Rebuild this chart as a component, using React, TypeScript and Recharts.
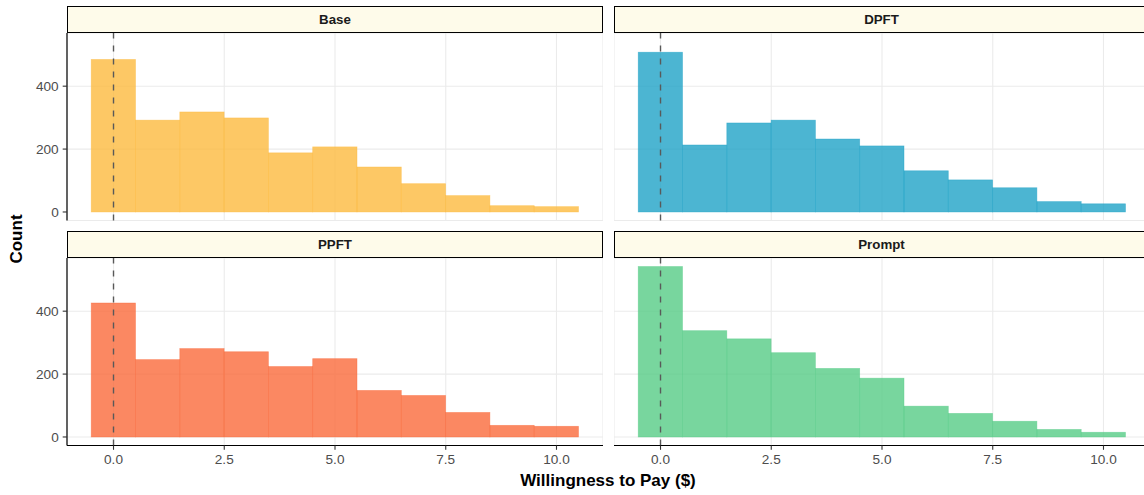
import React from "react"
import { BarChart, Bar, XAxis, YAxis, CartesianGrid, ReferenceLine } from "recharts"

// bin centres (width 1) and counts per condition
const bins = [0, 1, 2, 3, 4, 5, 6, 7, 8, 9, 10]
const baseCounts = [485, 292, 318, 299, 188, 207, 143, 90, 52, 20, 17]
const dpftCounts = [508, 213, 283, 292, 232, 210, 131, 102, 77, 33, 26]
const ppftCounts = [426, 246, 281, 271, 224, 249, 148, 132, 78, 37, 34]
const promptCounts = [542, 338, 312, 268, 218, 187, 98, 75, 50, 24, 15]

const xTicks = [0, 2.5, 5, 7.5, 10]
const yTicks = [0, 200, 400]

const FONT = "'Liberation Sans', Arial, Helvetica, sans-serif"
const PANEL_W = 536
const PANEL_H = 187.5
const X_DOMAIN: [number, number] = [-1.05, 11.05]
const Y_DOMAIN: [number, number] = [-27.1, 569.1]
const Y_AXIS_W = 67
const X_AXIS_H = 32
const BAR_W = PANEL_W / (X_DOMAIN[1] - X_DOMAIN[0])

const toRows = (counts: number[]) => bins.map((b, i) => ({ bin: b, count: counts[i] }))

const tickStyle = { fill: "#4d4d4d", fontSize: 13.6, fontFamily: FONT }

// histogram bars: full bin width, centred on the bar's x position
const HistRect = (props: any) => {
  const { x, y, width, height, fill } = props
  if (height == null || height <= 0) return null
  const cx = x + width / 2
  return (
    <rect
      x={cx - BAR_W / 2}
      y={y}
      width={BAR_W}
      height={height}
      fill={fill}
      fillOpacity={0.8}
      stroke={fill}
      strokeOpacity={0.55}
      strokeWidth={0.7}
    />
  )
}

interface PanelProps {
  title: string
  counts: number[]
  color: string
  left: number
  top: number
  showX: boolean
  showY: boolean
}

function Strip({ title, left, top }: { title: string; left: number; top: number }) {
  return (
    <div
      style={{
        position: "absolute",
        left,
        top,
        width: PANEL_W,
        height: 27,
        boxSizing: "border-box",
        border: "1.4px solid #000",
        background: "#fefbea",
        fontFamily: FONT,
        fontWeight: "bold",
        fontSize: 13.3,
        color: "#1a1a1a",
        display: "flex",
        alignItems: "center",
        justifyContent: "center",
      }}
    >
      {title}
    </div>
  )
}

function Panel({ title, counts, color, left, top, showX, showY }: PanelProps) {
  const w = PANEL_W + (showY ? Y_AXIS_W : 0)
  const h = PANEL_H + (showX ? X_AXIS_H : 0)
  return (
    <>
      <Strip title={title} left={left} top={top - 27} />
      <div style={{ position: "absolute", left: left - (showY ? Y_AXIS_W : 0), top }}>
        <BarChart
          width={w}
          height={h}
          data={toRows(counts)}
          margin={{ top: 0, right: 0, bottom: 0, left: 0 }}
          barCategoryGap={0}
          barGap={0}
        >
          <CartesianGrid stroke="#ebebeb" strokeWidth={1.1} />
          <XAxis
            dataKey="bin"
            type="number"
            domain={X_DOMAIN}
            ticks={xTicks}
            allowDataOverflow
            hide={!showX}
            height={X_AXIS_H}
            tickFormatter={(v: number) => v.toFixed(1)}
            tick={tickStyle}
            tickSize={4.3}
            tickMargin={5}
            axisLine={{ stroke: "#000", strokeWidth: 1.2 }}
            tickLine={{ stroke: "#333", strokeWidth: 1.1 }}
          />
          <YAxis
            type="number"
            domain={Y_DOMAIN}
            ticks={yTicks}
            allowDataOverflow
            hide={!showY}
            width={Y_AXIS_W}
            tick={tickStyle}
            tickSize={4.3}
            tickMargin={4}
            axisLine={{ stroke: "#000", strokeWidth: 1.2 }}
            tickLine={{ stroke: "#333", strokeWidth: 1.1 }}
          />
          <Bar dataKey="count" fill={color} shape={HistRect} isAnimationActive={false} />
          <ReferenceLine x={0} stroke="#595959" strokeWidth={1.4} strokeDasharray="6 7" />
        </BarChart>
      </div>
    </>
  )
}

export default function App() {
  return (
    <div
      style={{
        position: "absolute",
        left: 0,
        top: 0,
        width: 1144,
        height: 495,
        overflow: "hidden",
        background: "#fff",
        fontFamily: FONT,
      }}
    >
      <Panel title="Base" counts={baseCounts} color="#fdba3e" left={67} top={33} showX={false} showY />
      <Panel title="DPFT" counts={dpftCounts} color="#1fa2c7" left={613.5} top={33} showX={false} showY={false} />
      <Panel title="PPFT" counts={ppftCounts} color="#fa6a3b" left={67} top={257.5} showX showY />
      <Panel title="Prompt" counts={promptCounts} color="#56cc86" left={613.5} top={257.5} showX showY={false} />
      <div
        style={{
          position: "absolute",
          left: 16.5,
          top: 239,
          transform: "translate(-50%, -50%) rotate(-90deg)",
          fontWeight: "bold",
          fontSize: 17,
          color: "#000",
          whiteSpace: "nowrap",
        }}
      >
        Count
      </div>
      <div
        style={{
          position: "absolute",
          left: 608,
          top: 481,
          transform: "translate(-50%, -50%)",
          fontWeight: "bold",
          fontSize: 17,
          color: "#000",
          whiteSpace: "nowrap",
        }}
      >
        Willingness to Pay ($)
      </div>
    </div>
  )
}
